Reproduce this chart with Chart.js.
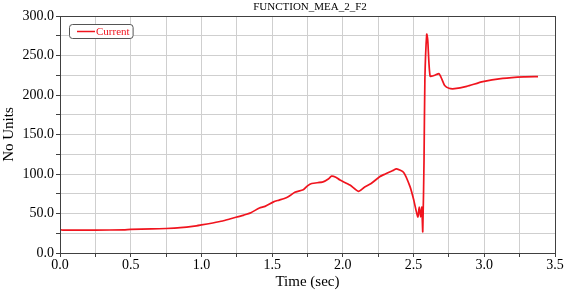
<!DOCTYPE html>
<html>
<head>
<meta charset="utf-8">
<script src="https://cdn.jsdelivr.net/npm/chart.js@4"></script>
<style>
html,body{margin:0;padding:0;background:#fff;}
#wrap{width:566px;height:291px;position:relative;}
</style>
</head>
<body>
<div id="wrap"><canvas id="c" width="566" height="291"></canvas></div>
<script>
const chartTitle = "FUNCTION_MEA_2_F2";
const xTitle = "Time (sec)";
const yTitle = "No Units";
const seriesName = "Current";
const timeSec = [0, 0, 0.02, 0.25, 0.45, 0.5, 0.65, 0.75, 0.85, 0.95, 1.0, 1.08, 1.15, 1.2, 1.25, 1.3, 1.35, 1.41, 1.45, 1.51, 1.55, 1.6, 1.63, 1.66, 1.72, 1.75, 1.78, 1.86, 1.9, 1.92, 1.95, 1.98, 2.05, 2.11, 2.15, 2.2, 2.26, 2.3, 2.35, 2.38, 2.43, 2.475, 2.5, 2.53, 2.54, 2.55, 2.558, 2.565, 2.574, 2.58, 2.593, 2.60, 2.617, 2.65, 2.68, 2.70, 2.72, 2.75, 2.79, 2.876, 2.99, 3.13, 3.28, 3.38];
const current = [0, 29, 29, 29, 29.3, 30, 30.5, 31, 32, 34, 35.5, 38, 40.5, 43, 45.5, 48, 51, 57, 59, 64.7, 67, 70, 73, 77, 80, 85, 88, 90, 94, 97.3, 96, 92.3, 86, 78, 83, 88, 96.5, 100, 104, 106.5, 102, 84, 68, 45.6, 58, 45.6, 58, 27, 118, 220, 277, 270, 224, 225, 227, 220, 212, 208.5, 208, 211, 217, 221, 223, 223.3];

const points = timeSec.map((t, i) => ({x: t, y: current[i]}));
const serif = "'Liberation Serif','Times New Roman',serif";

const framePlugin = {
  id: 'frame',
  afterDraw(chart) {
    const ctx = chart.ctx, a = chart.chartArea;
    ctx.save();
    ctx.strokeStyle = '#404040';
    ctx.lineWidth = 1;
    ctx.strokeRect(Math.round(a.left) + 0.5, Math.round(a.top) + 0.5, Math.round(a.right - a.left), Math.round(a.bottom - a.top));
    // title
    ctx.fillStyle = '#000';
    ctx.font = "11px " + serif;
    ctx.textAlign = 'center';
    ctx.textBaseline = 'middle';
    ctx.fillText(chartTitle, 310, 7);
    // legend
    const ds = chart.data.datasets[0];
    ctx.font = "11px " + serif;
    const tw = ctx.measureText(ds.label).width;
    const lx = 69, ly = 24, lw = 27 + tw + 3, lh = 14;
    ctx.beginPath();
    ctx.roundRect(lx + 0.5, ly + 0.5, lw, lh, 3);
    ctx.fillStyle = '#fff';
    ctx.fill();
    ctx.strokeStyle = '#555';
    ctx.lineWidth = 1;
    ctx.stroke();
    ctx.strokeStyle = ds.borderColor;
    ctx.lineWidth = 1.5;
    ctx.beginPath();
    ctx.moveTo(lx + 8, ly + 7.5);
    ctx.lineTo(lx + 26, ly + 7.5);
    ctx.stroke();
    ctx.fillStyle = ds.borderColor;
    ctx.textAlign = 'left';
    ctx.fillText(ds.label, lx + 27, ly + 8);
    ctx.restore();
  }
};

new Chart(document.getElementById('c'), {
  type: 'line',
  data: {
    datasets: [{
      label: seriesName,
      data: points,
      borderColor: '#f0141e',
      borderWidth: 1.7,
      pointRadius: 0,
      tension: 0.2,
      fill: false
    }]
  },
  options: {
    responsive: false,
    animation: false,
    layout: {padding: {top: 16, right: 11, left: 0, bottom: 0}},
    plugins: {legend: {display: false}, title: {display: false}, tooltip: {enabled: false}},
    scales: {
      x: {
        type: 'linear',
        min: 0, max: 3.5,
        afterFit(s) { s.height = 38; },
        border: {color: '#404040'},
        grid: {color: '#cfcfcf', tickColor: '#404040', tickLength: 4, lineWidth: 1},
        ticks: {
          stepSize: 0.25, autoSkip: false, maxRotation: 0, padding: 0,
          color: '#000', font: {family: serif, size: 14},
          callback: v => (Math.abs(v / 0.5 - Math.round(v / 0.5)) < 1e-6) ? v.toFixed(1) : ''
        },
        title: {display: true, text: xTitle, color: '#000', font: {family: serif, size: 15}, padding: {top: 0, bottom: 0}}
      },
      y: {
        min: 0, max: 300,
        afterFit(s) { s.width = 60; },
        border: {color: '#404040'},
        grid: {color: '#cfcfcf', tickColor: '#404040', tickLength: 4, lineWidth: 1},
        ticks: {
          stepSize: 25, autoSkip: false, padding: 2,
          color: '#000', font: {family: serif, size: 14},
          callback: v => (v % 50 === 0) ? v.toFixed(1) : ''
        },
        title: {display: true, text: yTitle, color: '#000', font: {family: serif, size: 15}, padding: {top: 0, bottom: 0}}
      }
    }
  },
  plugins: [framePlugin]
});
</script>
</body>
</html>
